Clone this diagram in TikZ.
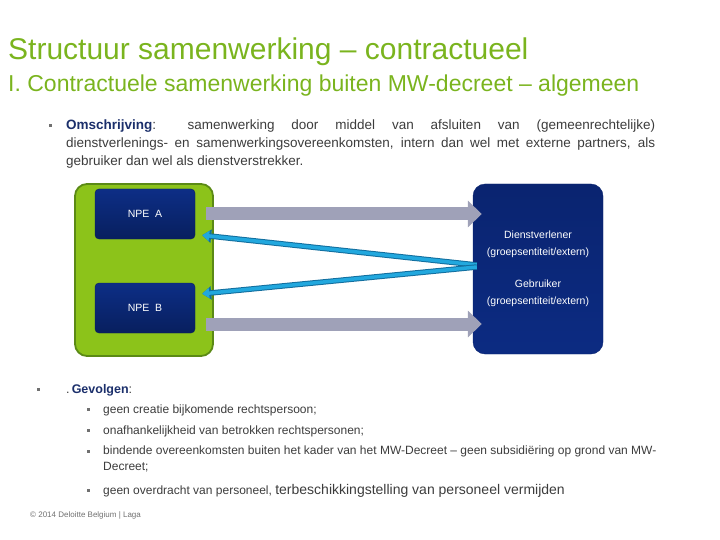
\documentclass[tikz,border=0pt]{standalone}
\usepackage{fontspec}
\setmainfont{Liberation Sans}
\usetikzlibrary{arrows.meta,positioning}

\definecolor{titlegreen}{HTML}{7AB41E}
\definecolor{groupfill}{HTML}{8CC31A}
\definecolor{groupline}{HTML}{5B8A15}
\definecolor{navytop}{HTML}{0D2E86}
\definecolor{navybot}{HTML}{081F5E}
\definecolor{partnertop}{HTML}{0A2470}
\definecolor{partnerbot}{HTML}{0C2B82}
\definecolor{navytext}{HTML}{1B2F6B}
\definecolor{bodygray}{HTML}{3C3C3C}
\definecolor{bulletgray}{HTML}{707070}
\definecolor{flowgray}{HTML}{9FA1B8}
\definecolor{cyanlight}{HTML}{22A8DE}
\definecolor{cyandark}{HTML}{126E9E}

\begin{document}
\begin{tikzpicture}[x=1pt,y=-1pt,
    txt/.style={anchor=base west, inner sep=0pt, text=bodygray},
    sqbullet/.style={rectangle, fill=bulletgray, minimum size=3pt, inner sep=0pt},
    npe/.style={rectangle, rounded corners=4pt, minimum width=100pt, minimum height=50pt,
        top color=navytop, bottom color=navybot, draw=navybot, text=white,
        font=\fontsize{10.5}{12}\selectfont},
    flow/.style={draw=flowgray, line width=13pt, -{Triangle[length=14pt,width=26pt]}},
    retour/.style={draw=cyanlight, line width=3.5pt, -{Triangle[length=7pt,width=10pt]},
        preaction={draw=cyandark, line width=5.5pt, -{Triangle[length=9pt,width=13pt]}}}]
    \useasboundingbox (0,0) rectangle (720,540);

    % titels
    \node[txt, text=titlegreen, font=\fontsize{30}{34}\selectfont] (title) at (8,60)
	{Structuur samenwerking – contractueel};
    \node[txt, text=titlegreen, font=\fontsize{23}{27}\selectfont] (subtitle) at (8,92)
	{I. Contractuele samenwerking buiten MW-decreet – algemeen};

    % omschrijving
    \node[sqbullet] (b1) at (50,126) {};
    \node[anchor=north west, inner sep=0pt, text=bodygray, text width=589pt, align=justify,
	font=\fontsize{13.5}{18}\selectfont] (omschr) at (66,120)
	{\textcolor{navytext}{\textbf{Omschrijving}}: samenwerking door middel van afsluiten van
	(gemeenrechtelijke)\linebreak dienstverlenings- en samenwerkingsovereenkomsten, intern
	dan wel met externe partners, als\linebreak gebruiker dan wel als dienstverstrekker.};

    % schema
    \node[rectangle, rounded corners=12pt, minimum width=138pt, minimum height=172pt,
	fill=groupfill, draw=groupline, line width=1.8pt] (group) at (144,270) {};
    \node[npe] (npea) at (145,214) {NPE\ \ A};
    \node[npe] (npeb) at (145,308) {NPE\ \ B};
    \node[rectangle, rounded corners=12pt, minimum width=130pt, minimum height=170pt,
	top color=partnertop, bottom color=partnerbot, draw=partnertop, text=white,
	align=center, font=\fontsize{10.5}{16.5}\selectfont] (partner) at (538,269)
	{Dienstverlener\\(groepsentiteit/extern)\\[16pt]Gebruiker\\(groepsentiteit/extern)};

    \path (partner.west |- npea.east) ++(9,0) coordinate (tipA);
    \path (partner.west |- npeb.east) ++(9,16) coordinate (tipB);
    \draw[flow] ([xshift=11pt]npea.east) -- (tipA);
    \draw[flow] ([xshift=11pt,yshift=-16pt]npeb.east) -- (tipB);

    \path (npea.south east) ++(7,-4) coordinate (retA);
    \path (npeb.north east) ++(7,11) coordinate (retB);
    \draw[retour] ([xshift=4pt,yshift=4pt]partner.west) -- (retA);
    \draw[retour] ([xshift=4pt,yshift=2pt]partner.west) -- (retB);

    % gevolgen
    \node[sqbullet] (b2) at (38,389) {};
    \node[txt, font=\fontsize{12.5}{15}\selectfont] (gevolgen) at (66,393)
	{.\,\textcolor{navytext}{\textbf{Gevolgen}}:};
    \node[sqbullet] (s1) at (88,409) {};
    \node[txt, font=\fontsize{12}{16}\selectfont] (g1) at (103,413)
	{geen creatie bijkomende rechtspersoon;};
    \node[sqbullet] (s2) at (88,430) {};
    \node[txt, font=\fontsize{12}{16}\selectfont] (g2) at (103,434)
	{onafhankelijkheid van betrokken rechtspersonen;};
    \node[sqbullet] (s3) at (88,451) {};
    \node[anchor=north west, inner sep=0pt, text=bodygray, align=left,
	font=\fontsize{12}{16}\selectfont] (g3) at (103,446)
	{bindende overeenkomsten buiten het kader van het MW-Decreet – geen subsidiëring op grond van MW-\\Decreet;};
    \node[sqbullet] (s4) at (88,490) {};
    \node[txt, font=\fontsize{12}{16}\selectfont] (g4) at (103,494)
	{geen overdracht van personeel, {\fontsize{14}{16}\selectfont terbeschikkingstelling van personeel vermijden}};

    % voettekst
    \node[txt, text=bulletgray, font=\fontsize{8}{9}\selectfont] (footer) at (30,517)
	{© 2014 Deloitte Belgium | Laga};
\end{tikzpicture}
\end{document}
